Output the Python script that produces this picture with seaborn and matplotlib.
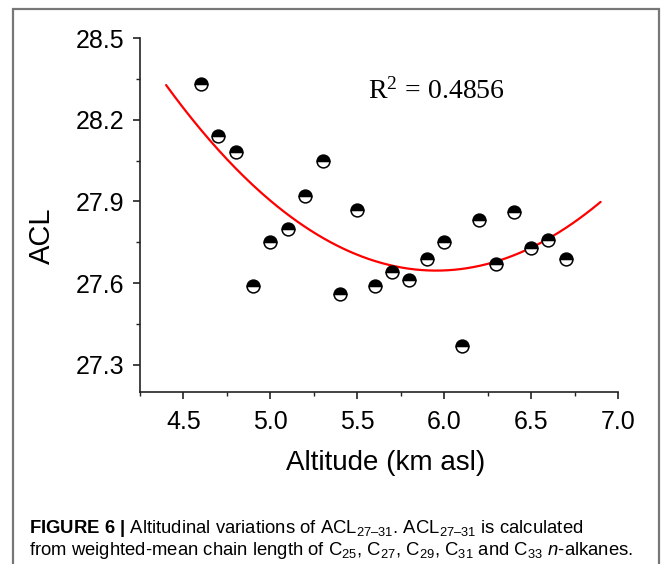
import numpy as np
import matplotlib
matplotlib.use("Agg")
import matplotlib.pyplot as plt
import seaborn as sns
from matplotlib.markers import MarkerStyle
from matplotlib.patches import Rectangle
from matplotlib.ticker import MultipleLocator, FormatStrFormatter
from matplotlib import font_manager

# values
altitude = [4.6, 4.7, 4.8, 4.9, 5.0, 5.1, 5.2, 5.3, 5.4, 5.5, 5.6,
            5.7, 5.8, 5.9, 6.0, 6.1, 6.2, 6.3, 6.4, 6.5, 6.6, 6.7]
acl = [28.33, 28.14, 28.08, 27.59, 27.75, 27.80, 27.92, 28.05, 27.56, 27.87, 27.59,
       27.64, 27.61, 27.69, 27.75, 27.37, 27.83, 27.67, 27.86, 27.73, 27.76, 27.69]
fit_range = [4.4, 6.9]
r2_label = "0.4856"

sns.set_style("ticks")
names = {f.name for f in font_manager.fontManager.ttflist}
cap_font = "Liberation Sans Narrow" if "Liberation Sans Narrow" in names else "Liberation Sans"
cap_size = 15.4 if cap_font == "Liberation Sans Narrow" else 13.3
plt.rcParams["font.family"] = ["Liberation Sans", "DejaVu Sans"]
plt.rcParams["text.color"] = "black"
plt.rcParams["axes.labelcolor"] = "black"
plt.rcParams["xtick.color"] = "black"
plt.rcParams["ytick.color"] = "black"
plt.rcParams["mathtext.rm"] = cap_font
plt.rcParams["mathtext.bf"] = cap_font + ":bold"
plt.rcParams["mathtext.it"] = cap_font + ":italic"

fig = plt.figure(figsize=(6.63, 5.64), dpi=100)
ax = fig.add_axes([0.2112, 0.305, 0.7209, 0.6276])

# quadratic fit through the points
coef = np.polyfit(altitude, acl, 2)
xfit = np.linspace(fit_range[0], fit_range[1], 200)
sns.lineplot(x=xfit, y=np.polyval(coef, xfit), color="red", lw=1.6, ax=ax, zorder=2)

# half-filled circles: black top, white bottom
sns.scatterplot(x=altitude, y=acl, marker=MarkerStyle("o", fillstyle="top"), s=85,
                color="black", edgecolor="black", linewidth=1.1, ax=ax, zorder=3)
sns.scatterplot(x=altitude, y=acl, marker=MarkerStyle("o", fillstyle="bottom"), s=85,
                color="white", edgecolor="black", linewidth=1.1, ax=ax, zorder=3)

ax.set_xlim(4.25, 7.0)
ax.set_ylim(27.2, 28.5)
ax.xaxis.set_major_locator(MultipleLocator(0.5))
ax.xaxis.set_minor_locator(MultipleLocator(0.25))
ax.set_yticks([27.3, 27.6, 27.9, 28.2, 28.5])
ax.set_yticks([27.45, 27.75, 28.05, 28.35], minor=True)
ax.yaxis.set_major_formatter(FormatStrFormatter("%.1f"))
ax.xaxis.set_major_formatter(FormatStrFormatter("%.1f"))
sns.despine(ax=ax)
for s in ["left", "bottom"]:
    ax.spines[s].set_linewidth(1.2)
    ax.spines[s].set_color("#222222")
ax.tick_params(which="major", length=5, width=1.2, labelsize=18, color="#222222", pad=6)
ax.tick_params(which="minor", length=3, width=1.0, color="#222222")
ax.tick_params(axis="x", pad=8)

ax.set_xlabel("Altitude (km asl)", fontsize=20)
ax.set_ylabel("ACL", fontsize=21)
ax.xaxis.set_label_coords(0.513, -0.165)
ax.yaxis.set_label_coords(-0.176, 0.44)

ax.text(5.563, 28.278, r"R$^{\mathregular{2}}$ = " + r2_label, fontsize=20, family="Liberation Serif",
        math_fontfamily="stix", ha="left", va="baseline")

# frame around the figure panel
fig.add_artist(Rectangle((13 / 663, -0.1), 646 / 663, 1.1 - 9 / 564, transform=fig.transFigure,
                         fill=False, edgecolor="#777777", lw=1.6))

fig.text(29 / 663, 1 - 533 / 564,
         r"$\mathbf{FIGURE\ 6\ |}$ Altitudinal variations of ACL$_{27–31}$. ACL$_{27–31}$ is calculated",
         fontsize=cap_size, family=cap_font, math_fontfamily="custom", va="baseline")
fig.text(29 / 663, 1 - 555 / 564,
         r"from weighted-mean chain length of C$_{25}$, C$_{27}$, C$_{29}$, C$_{31}$ and C$_{33}$ $n$-alkanes.",
         fontsize=cap_size, family=cap_font, math_fontfamily="custom", va="baseline")

fig.savefig("out.png", dpi=100)
